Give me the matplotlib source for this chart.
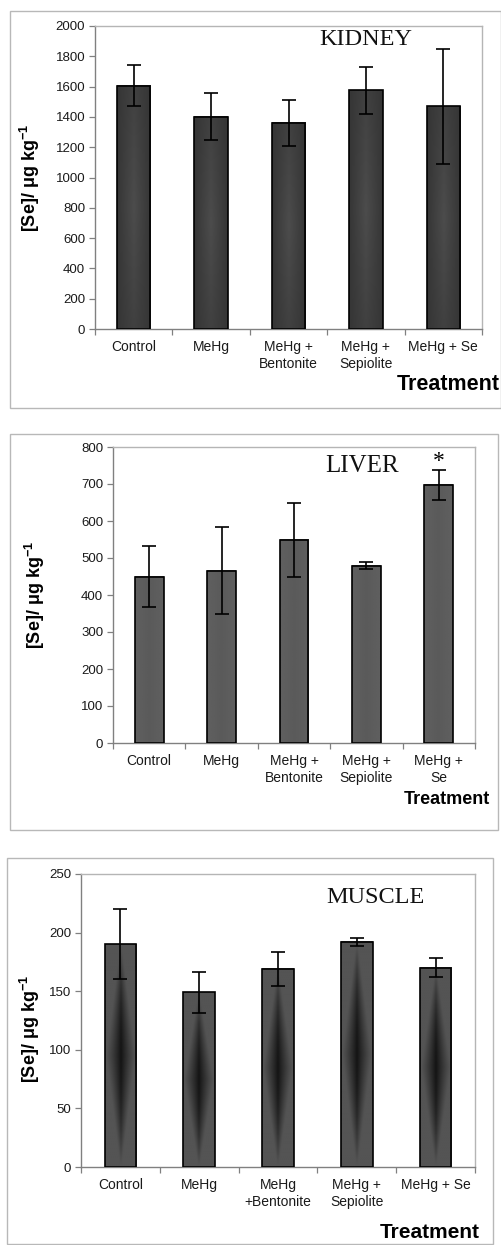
import numpy as np
import matplotlib
matplotlib.use("Agg")
import matplotlib.pyplot as plt
from matplotlib.patches import Rectangle

plt.rcParams['font.family'] = ['Liberation Sans', 'DejaVu Sans']
plt.rcParams['mathtext.fontset'] = 'custom'
plt.rcParams['mathtext.rm'] = 'Liberation Sans:bold'
plt.rcParams['mathtext.default'] = 'rm'

# ---------------- data ----------------
kidney_labels = ["Control", "MeHg", "MeHg +\nBentonite", "MeHg +\nSepiolite", "MeHg + Se"]
kidney_mean = [1605, 1400, 1360, 1575, 1470]
kidney_err = [135, 155, 150, 153, 380]
kidney_ticks = [0, 200, 400, 600, 800, 1000, 1200, 1400, 1600, 1800, 2000]

liver_labels = ["Control", "MeHg", "MeHg +\nBentonite", "MeHg +\nSepiolite", "MeHg +\nSe"]
liver_mean = [450, 466, 550, 479, 698]
liver_err = [83, 118, 100, 9, 40]
liver_ticks = [0, 100, 200, 300, 400, 500, 600, 700, 800]
liver_signif = ["", "", "", "", "*"]

muscle_labels = ["Control", "MeHg", "MeHg\n+Bentonite", "MeHg +\nSepiolite", "MeHg + Se"]
muscle_mean = [190, 149, 169, 192, 170]
muscle_err = [30, 17.5, 14.5, 3.8, 8]
muscle_ticks = [0, 50, 100, 150, 200, 250]

W, H = 502, 1245
fig = plt.figure(figsize=(W / 100, H / 100), dpi=100)


def fx(px):
    return px / W


def fy(py):
    return 1 - py / H


def frame(l, t, r, b):
    fig.add_artist(Rectangle((fx(l), fy(b)), fx(r) - fx(l), fy(t) - fy(b),
                             transform=fig.transFigure, fill=False,
                             edgecolor='#b8b8b8', linewidth=1.0))


def gradient(kind, n=80):
    yy, xx = np.mgrid[-1:1:n * 1j, -1:1:n * 1j]
    if kind == 'kidney':
        return 0.21 + 0.09 * (1 - np.abs(xx)) * (1 - 0.5 * np.abs(yy))
    if kind == 'liver':
        return 0.355 + 0.02 * np.abs(xx)
    # muscle: diffuse dark core, strongest at the middle, fading up and down
    half = 0.9 * (1 - np.abs(yy)) + 0.05
    d = np.clip(1 - np.abs(xx) / half, 0, 1) ** 1.2 * (1 - np.abs(yy) ** 2)
    return 0.33 - 0.25 * d


def panel(rect_px, labels, mean, err, ticks, width, kind, title, title_xy,
          title_size, ylab_x, ylab_y=0.5, signif=None):
    l, t, r, b = rect_px
    ax = fig.add_axes([fx(l), fy(b), fx(r) - fx(l), fy(t) - fy(b)])
    x = np.arange(len(labels))
    bars = ax.bar(x, mean, width=width, facecolor='none', edgecolor='black',
                  linewidth=1.2, zorder=3)
    img = gradient(kind)
    for bar in bars:
        x0, w, h = bar.get_x(), bar.get_width(), bar.get_height()
        ax.imshow(img, extent=[x0, x0 + w, 0, h], cmap='gray', vmin=0, vmax=1,
                  aspect='auto', zorder=2, interpolation='bilinear')
    ax.errorbar(x, mean, yerr=err, fmt='none', ecolor='black', elinewidth=1.2,
                capsize=5, capthick=1.2, zorder=4)
    ax.set_xlim(-0.5, len(labels) - 0.5)
    ax.set_ylim(ticks[0], ticks[-1])
    ax.set_yticks(ticks)
    ax.set_yticklabels([str(v) for v in ticks], fontsize=9.5, color='#1a1a1a')
    # category boundaries as major ticks; labels on minor ticks
    ax.set_xticks(np.arange(len(labels) + 1) - 0.5)
    ax.set_xticklabels([])
    ax.set_xticks(x, minor=True)
    ax.set_xticklabels(labels, minor=True, fontsize=10, linespacing=1.3, color='#1a1a1a')
    ax.tick_params(axis='x', which='minor', length=0, pad=8)
    ax.tick_params(axis='x', which='major', length=4, color='#808080', width=0.9, direction='out')
    ax.tick_params(axis='y', length=4, color='#808080', width=0.9, direction='out', pad=3)
    for s in ['left', 'bottom']:
        ax.spines[s].set_color('#808080')
        ax.spines[s].set_linewidth(1.0)
    for s in ['top', 'right']:
        ax.spines[s].set_color('#b5b5b5')
        ax.spines[s].set_linewidth(1.0)
    ax.text(title_xy[0], title_xy[1], title, transform=ax.transAxes, ha='center',
            va='center', fontsize=title_size, family='Liberation Serif', color='#111111')
    ax.set_ylabel("[Se]/ μg kg$^{-1}$", fontsize=13, fontweight='bold')
    ax.yaxis.set_label_coords(ylab_x, ylab_y)
    if signif is not None:
        for xi, m, e, s in zip(x, mean, err, signif):
            if s:
                ax.annotate(s, (xi, m + e), xytext=(0, 6), textcoords='offset points',
                            ha='center', va='center', fontsize=17,
                            family='Liberation Serif')
    return ax


# Kidney
frame(10, 11, 501, 408)
panel((95, 26, 482, 329), kidney_labels, kidney_mean, kidney_err, kidney_ticks,
      0.43, 'kidney', 'KIDNEY', (0.70, 0.955), 17.5, -0.137)
fig.text(fx(500), fy(384), 'Treatment', ha='right', va='center', fontsize=15.5,
         fontweight='bold')

# Liver
frame(10, 434, 498, 830)
panel((113, 447, 475, 743), liver_labels, liver_mean, liver_err, liver_ticks,
      0.40, 'liver', 'LIVER', (0.688, 0.936), 18, -0.182, signif=liver_signif)
fig.text(fx(490), fy(799), 'Treatment', ha='right', va='center', fontsize=13,
         fontweight='bold')

# Muscle
frame(7, 858, 493, 1244)
panel((81, 874, 475, 1167), muscle_labels, muscle_mean, muscle_err, muscle_ticks,
      0.40, 'muscle', 'MUSCLE', (0.747, 0.92), 17.5, -0.098, ylab_y=0.47)
fig.text(fx(480), fy(1232), 'Treatment', ha='right', va='center', fontsize=15,
         fontweight='bold')

fig.savefig('out.png', dpi=100)
